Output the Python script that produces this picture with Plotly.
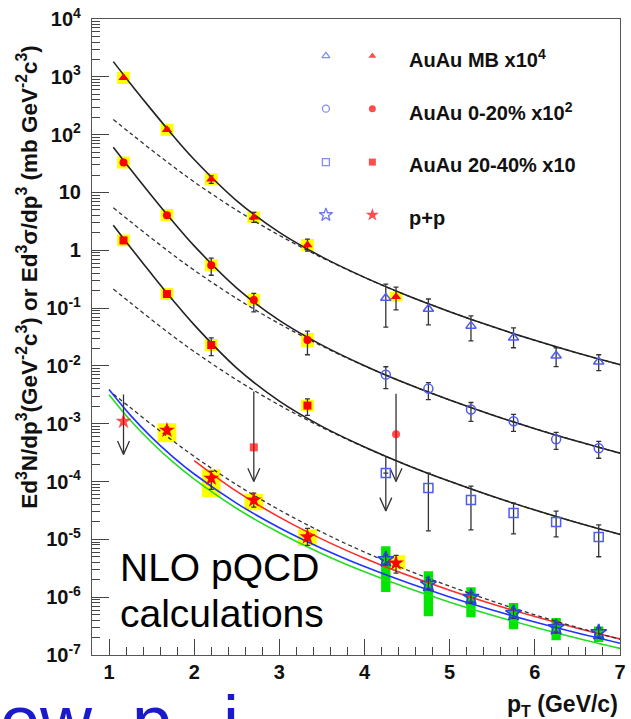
import plotly.graph_objects as go

# ---------------------------------------------------------------- data
# p_T of the virtual-photon (red) and real-photon (blue) points, GeV/c
pt_virt = [1.17, 1.68, 2.20, 2.70, 3.33, 4.37]
pt_real = [4.25, 4.75, 5.25, 5.75, 6.25, 6.75]

# AuAu minimum bias (x10^4)
mb_y = [960, 122, 16.9, 3.74, 1.23, 0.157]
mb_up = [30, 8, 2.5, 0.8, 0.33, 0.073]
mb_dn = [30, 8, 2.5, 0.7, 0.26, 0.064]
mb_sys_hi = [1220, 155, 21.5, 4.75, 1.56, 0.19]
mb_sys_lo = [755, 96, 13.3, 2.94, 0.97, 0.13]
mb_real_y = [0.149, 0.0965, 0.0492, 0.0306, 0.0150, 0.0118]
mb_real_up = [0.111, 0.047, 0.0239, 0.0149, 0.0056, 0.0038]
mb_real_dn = [0.102, 0.0453, 0.022, 0.010, 0.0053, 0.00354]

# AuAu 0-20% (x10^2); the 4.37 GeV/c point is an upper limit
c0_pt = [1.17, 1.68, 2.20, 2.70, 3.33]
c0_y = [33, 4.05, 0.55, 0.138, 0.028]
c0_up = [1.0, 0.25, 0.18, 0.042, 0.012]
c0_dn = [1.0, 0.25, 0.18, 0.052, 0.0124]
c0_sys_hi = [42, 5.15, 0.70, 0.175, 0.037]
c0_sys_lo = [26, 3.19, 0.43, 0.109, 0.021]
c0_real_y = [0.00706, 0.00405, 0.00176, 0.00110, 0.000537, 0.000376]
c0_real_up = [0.00262, 0.00109, 0.00057, 0.00035, 0.000171, 0.00012]
c0_real_dn = [0.00301, 0.00143, 0.00066, 0.000363, 0.000176, 0.000123]

# AuAu 20-40% (x10); the 2.70 GeV/c point is an upper limit
c2_pt = [1.17, 1.68, 2.20, 3.33]
c2_y = [1.48, 0.175, 0.023, 2.06e-3]
c2_up = [0.05, 0.01, 0.0076, 6.4e-4]
c2_dn = [0.05, 0.01, 0.0079, 6.6e-4]
c2_sys_hi = [1.88, 0.222, 0.0292, 2.6e-3]
c2_sys_lo = [1.17, 0.138, 0.0181, 1.65e-3]
c2_real_y = [1.40e-4, 7.7e-5, 4.79e-5, 2.86e-5, 2.0e-5, 1.10e-5]
c2_real_up = [0, 6.3e-5, 3.51e-5, 1.39e-5, 1.09e-5, 6.8e-6]
c2_real_dn = [0, 6.3e-5, 3.33e-5, 1.62e-5, 9.0e-6, 6.0e-6]

# p+p; the 1.17 GeV/c point is an upper limit
pp_pt = [1.68, 2.20, 2.70, 3.33, 4.37]
pp_y = [7.7e-4, 1.14e-4, 4.8e-5, 1.1e-5, 3.9e-6]
pp_up = [1.0e-4, 3.6e-5, 1.5e-5, 4.5e-6, 1.4e-6]
pp_dn = [1.0e-4, 4.1e-5, 1.2e-5, 3.1e-6, 1.3e-6]
pp_sys_hi = [1.02e-3, 1.63e-4, 6.1e-5, 1.5e-5, 5.3e-6]
pp_sys_lo = [4.8e-4, 5.4e-5, 3.2e-5, 7.7e-6, 3.0e-6]
pp_real_y = [4.5e-6, 1.68e-6, 1.0e-6, 5.3e-7, 3.0e-7, 2.47e-7]
pp_real_err = [9e-7, 3.4e-7, 2.0e-7, 1.0e-7, 6e-8, 5e-8]
pp_real_sys_hi = [7.6e-6, 2.8e-6, 1.49e-6, 7.9e-7, 4.35e-7, 3.1e-7]
pp_real_sys_lo = [1.23e-6, 4.7e-7, 4.5e-7, 2.8e-7, 1.8e-7, 1.67e-7]

# upper limits: p_T, top of the bar, arrow tip
lim_pt = [1.17, 2.70, 4.37, 4.25]
lim_top = [3.2e-3, 3.6e-3, 3.3e-3, 2.74e-4]
lim_tip = [2.95e-4, 1.0e-4, 1.0e-4, 3.1e-5]
lim_val = [1.1e-3, 3.9e-4, 6.6e-4]          # central values of the red limits
lim_sym = ["star", "square", "circle"]

# fits: exponential + T_AA-scaled p+p (solid), scaled p+p fit (dashed)
fit_pt = [1.05, 1.25, 1.5, 1.75, 2.0, 2.5, 3.0, 3.5, 4.0, 4.5, 5.0, 5.5, 6.0, 6.5, 7.0]
mb_fit = [1831, 769, 268, 96.7, 37.2, 7.18, 2.04, 0.769, 0.340, 0.165, 0.0868, 0.0479, 0.0277, 0.0167, 0.0105]
c0_fit = [60.7, 25.4, 8.77, 3.14, 1.19, 0.222, 0.0614, 0.0229, 0.0101, 0.0049, 0.00257, 0.00142, 0.000822, 0.000496, 0.00031]
c2_fit = [2.72, 1.13, 0.388, 0.137, 0.0512, 0.00916, 0.00246, 9.0e-4, 3.96e-4, 1.92e-4, 1.01e-4, 5.56e-5, 3.22e-5, 1.94e-5, 1.22e-5]
mb_pp = [183, 106, 54.2, 28.3, 15.2, 4.92, 1.81, 0.745, 0.338, 0.165, 0.0868, 0.0479, 0.0277, 0.0167, 0.0105]
c0_pp = [5.43, 3.15, 1.61, 0.838, 0.452, 0.146, 0.0536, 0.0221, 0.0100, 0.0049, 0.00257, 0.00142, 0.000822, 0.000496, 0.00031]
c2_pp = [0.213, 0.124, 0.0629, 0.0328, 0.0177, 0.00571, 0.0021, 8.65e-4, 3.92e-4, 1.92e-4, 1.01e-4, 5.56e-5, 3.22e-5, 1.94e-5, 1.22e-5]
pp_fit = [3.27e-3, 1.90e-3, 9.68e-4, 5.05e-4, 2.72e-4, 8.78e-5, 3.23e-5, 1.33e-5, 6.03e-6, 2.95e-6, 1.55e-6, 8.55e-7, 4.95e-7, 2.99e-7, 1.87e-7]

# NLO pQCD for three scale choices
nlo_pt = [1.0, 1.25, 1.5, 1.75, 2.0, 2.5, 3.0, 3.5, 4.0, 4.5, 5.0, 5.5, 6.0, 6.5, 7.0]
nlo_mid = [3.91e-3, 1.41e-3, 5.82e-4, 2.68e-4, 1.35e-4, 4.20e-5, 1.59e-5, 6.96e-6, 3.38e-6, 1.79e-6, 1.01e-6, 5.99e-7, 3.72e-7, 2.40e-7, 1.60e-7]
nlo_low = [3.18e-3, 1.145e-3, 4.73e-4, 2.18e-4, 1.10e-4, 3.42e-5, 1.30e-5, 5.66e-6, 2.75e-6, 1.45e-6, 8.2e-7, 4.87e-7, 3.03e-7, 1.95e-7, 1.30e-7]
nlo_hi_pt = [2.0, 2.5, 3.0, 3.5, 4.0, 4.5, 5.0, 5.5, 6.0, 6.5, 7.0]
nlo_high = [2.31e-4, 6.74e-5, 2.42e-5, 1.01e-5, 4.72e-6, 2.41e-6, 1.32e-6, 7.62e-7, 4.62e-7, 2.91e-7, 1.90e-7]

legend_labels = ["AuAu MB x10<sup>4</sup>", "AuAu 0-20% x10<sup>2</sup>",
                 "AuAu 20-40% x10", "p+p"]

# ---------------------------------------------------------------- styles
RED = "#ff0000"
BLUE = "#4f5cf0"
STAR_BLUE = "#2f3fe0"
ERR = "#333333"
YELLOW = "#ffff00"
GREEN = "#00e600"
FONT = "Liberation Sans, Arial, Helvetica, sans-serif"


def boxes(xs, lo, hi, half):
    px, py = [], []
    for x, a, b in zip(xs, lo, hi):
        px += [x - half, x + half, x + half, x - half, x - half, None]
        py += [a, a, b, b, a, None]
    return px, py


def limits(xs, tops, tips, dx=0.07, k=1.7):
    px, py = [], []
    for x, t, b in zip(xs, tops, tips):
        px += [x, x, None, x - dx, x, x + dx, None]
        py += [t, b, None, b * k, b, b * k, None]
    return px, py


fig = go.Figure()

# systematic-uncertainty boxes
yx, yy = [], []
for xs, lo, hi in [(pt_virt, mb_sys_lo, mb_sys_hi), (c0_pt, c0_sys_lo, c0_sys_hi),
                   (c2_pt, c2_sys_lo, c2_sys_hi)]:
    bx, by = boxes(xs, lo, hi, 0.075)
    yx += bx
    yy += by
bx, by = boxes(pp_pt, pp_sys_lo, pp_sys_hi, 0.11)
yx += bx
yy += by
fig.add_trace(go.Scatter(x=yx, y=yy, mode="lines", fill="toself", fillcolor=YELLOW,
                         line=dict(width=0), hoverinfo="skip"))
gx, gy = boxes(pt_real, pp_real_sys_lo, pp_real_sys_hi, 0.055)
fig.add_trace(go.Scatter(x=gx, y=gy, mode="lines", fill="toself", fillcolor=GREEN,
                         line=dict(width=0), hoverinfo="skip"))

# NLO pQCD curves
for xs, ys, col in [(nlo_pt, nlo_low, "#22dd22"), (nlo_pt, nlo_mid, "#2233ff"),
                    (nlo_hi_pt, nlo_high, "#ff2a2a")]:
    fig.add_trace(go.Scatter(x=xs, y=ys, mode="lines", line=dict(color=col, width=1.6, shape="spline"),
                             hoverinfo="skip"))

# fits
for ys in [mb_pp, c0_pp, c2_pp, pp_fit]:
    fig.add_trace(go.Scatter(x=fit_pt, y=ys, mode="lines",
                             line=dict(color="#333333", width=1.3, dash="4px,3px", shape="spline"),
                             hoverinfo="skip"))
for ys in [mb_fit, c0_fit, c2_fit]:
    fig.add_trace(go.Scatter(x=fit_pt, y=ys, mode="lines",
                             line=dict(color="#222222", width=1.6, shape="spline"),
                             hoverinfo="skip"))

# upper-limit bars with arrows
lx, ly = limits(lim_pt, lim_top, lim_tip)
fig.add_trace(go.Scatter(x=lx, y=ly, mode="lines", line=dict(color=ERR, width=1.3),
                         hoverinfo="skip"))


def err(up, dn):
    return dict(type="data", symmetric=False, array=up, arrayminus=dn,
                color=ERR, thickness=1.3, width=2.5)


# real-photon points (blue, open)
for ys, up, dn, sym in [(mb_real_y, mb_real_up, mb_real_dn, "triangle-up-open"),
                        (c0_real_y, c0_real_up, c0_real_dn, "circle-open"),
                        (c2_real_y, c2_real_up, c2_real_dn, "square-open")]:
    fig.add_trace(go.Scatter(x=pt_real, y=ys, mode="markers", error_y=err(up, dn),
                             marker=dict(symbol=sym, size=9, color=BLUE, line=dict(width=1.5, color=BLUE))))
fig.add_trace(go.Scatter(x=pt_real, y=pp_real_y, mode="markers",
                         error_y=err(pp_real_err, pp_real_err),
                         marker=dict(symbol="star-open", size=12, color=STAR_BLUE,
                                     line=dict(width=1.6, color=STAR_BLUE))))

# virtual-photon points (red, filled)
for xs, ys, up, dn, sym, sz in [(pt_virt, mb_y, mb_up, mb_dn, "triangle-up", 9),
                                (c0_pt, c0_y, c0_up, c0_dn, "circle", 8),
                                (c2_pt, c2_y, c2_up, c2_dn, "square", 8),
                                (pp_pt, pp_y, pp_up, pp_dn, "star", 12)]:
    fig.add_trace(go.Scatter(x=xs, y=ys, mode="markers", error_y=err(up, dn),
                             marker=dict(symbol=sym, size=sz, color=RED, line=dict(width=0))))
fig.add_trace(go.Scatter(x=lim_pt[:3], y=lim_val, mode="markers",
                         marker=dict(symbol=lim_sym, size=[12, 8, 8], color=RED, line=dict(width=0))))

# legend drawn on an overlay frame (0..1 in both directions)
leg_rows = [0.942, 0.859, 0.775, 0.692]
fig.add_trace(go.Scatter(x=[0.443] * 4, y=leg_rows, mode="markers", xaxis="x2", yaxis="y2",
                         marker=dict(symbol=["triangle-up-open", "circle-open", "square-open", "star-open"],
                                     size=[7, 7, 7, 10], color=[BLUE, BLUE, BLUE, STAR_BLUE],
                                     line=dict(width=1.3, color=[BLUE, BLUE, BLUE, STAR_BLUE]))))
fig.add_trace(go.Scatter(x=[0.531] * 4, y=leg_rows, mode="markers", xaxis="x2", yaxis="y2",
                         marker=dict(symbol=["triangle-up", "circle", "square", "star"],
                                     size=[7, 7, 7, 10], color=RED, line=dict(width=0))))

annotations = []
for row, lab in zip(leg_rows, legend_labels):
    annotations.append(dict(x=0.597, y=row, xref="paper", yref="paper", text=lab,
                            showarrow=False, xanchor="left", yanchor="middle", yshift=-3,
                            font=dict(size=20, weight="bold", family=FONT, color="#111")))

annotations.append(dict(
    x=-0.122, y=0.594, xref="paper", yref="paper", textangle=-90, showarrow=False,
    xanchor="center", yanchor="middle",
    text="Ed<sup>3</sup>N/dp<sup>3</sup>(GeV<sup>-2</sup>c<sup>3</sup>) or "
         "Ed<sup>3</sup>σ/dp<sup>3</sup> (mb GeV<sup>-2</sup>c<sup>3</sup>)",
    font=dict(size=22.5, weight="bold", family=FONT, color="#111")))
annotations.append(dict(
    x=1.0, y=-0.08, xref="paper", yref="paper", showarrow=False, xanchor="right",
    yanchor="middle", text="p<sub>T</sub> (GeV/c)",
    font=dict(size=23, weight="bold", family=FONT, color="#111")))
annotations.append(dict(
    x=0.0487, y=0.1375, xref="paper", yref="paper", showarrow=False, xanchor="left",
    yanchor="middle", text="NLO pQCD",
    font=dict(size=39, family=FONT, color="black")))
annotations.append(dict(
    x=0.0487, y=0.066, xref="paper", yref="paper", showarrow=False, xanchor="left",
    yanchor="middle", text="calculations",
    font=dict(size=39, family=FONT, color="black")))
annotations.append(dict(
    x=-0.178, y=-0.038, xref="paper", yref="paper", showarrow=False, xanchor="left",
    yanchor="top", text="ow&nbsp; p<sub>T</sub> i",
    font=dict(size=72, family=FONT, color="#1a1acc")))

ytick_vals = [1e-7, 1e-6, 1e-5, 1e-4, 1e-3, 1e-2, 1e-1, 1, 10, 100, 1000, 10000]
ytick_text = ["10<sup>-7</sup>", "10<sup>-6</sup>", "10<sup>-5</sup>", "10<sup>-4</sup>",
              "10<sup>-3</sup>", "10<sup>-2</sup>", "10<sup>-1</sup>", "1", "10",
              "10<sup>2</sup>", "10<sup>3</sup>", "10<sup>4</sup>"]

fig.update_layout(
    width=631, height=719,
    margin=dict(l=92, r=5, t=15, b=64),
    paper_bgcolor="white", plot_bgcolor="white",
    showlegend=False,
    font=dict(family=FONT, color="#111"),
    annotations=annotations,
    xaxis=dict(range=[0.8, 7.0], tickmode="linear", tick0=0, dtick=1,
               ticks="inside", ticklen=16, tickwidth=1, tickcolor="#444",
               showline=True, linecolor="#555", linewidth=1.2, mirror=True,
               showgrid=False, zeroline=False, ticklabelstandoff=-1,
               tickfont=dict(size=20, weight="bold", family=FONT, color="#111"),
               minor=dict(ticks="inside", tick0=0, dtick=0.2, ticklen=8,
                          tickcolor="#444", showgrid=False)),
    yaxis=dict(type="log", range=[-7, 4], tickmode="array", tickvals=ytick_vals,
               ticktext=ytick_text, ticks="inside", ticklen=17, tickwidth=1,
               tickcolor="#444", showline=True, linecolor="#555", linewidth=1.2,
               mirror=True, showgrid=False, zeroline=False, ticklabelstandoff=6,
               tickfont=dict(size=20, weight="bold", family=FONT, color="#111"),
               minor=dict(ticks="inside", dtick="D1", ticklen=8, tickcolor="#444",
                          showgrid=False)),
    xaxis2=dict(overlaying="x", range=[0, 1], visible=False, fixedrange=True),
    yaxis2=dict(overlaying="y", range=[0, 1], visible=False, fixedrange=True),
)

fig.write_html("out.html", config={"displayModeBar": False})
